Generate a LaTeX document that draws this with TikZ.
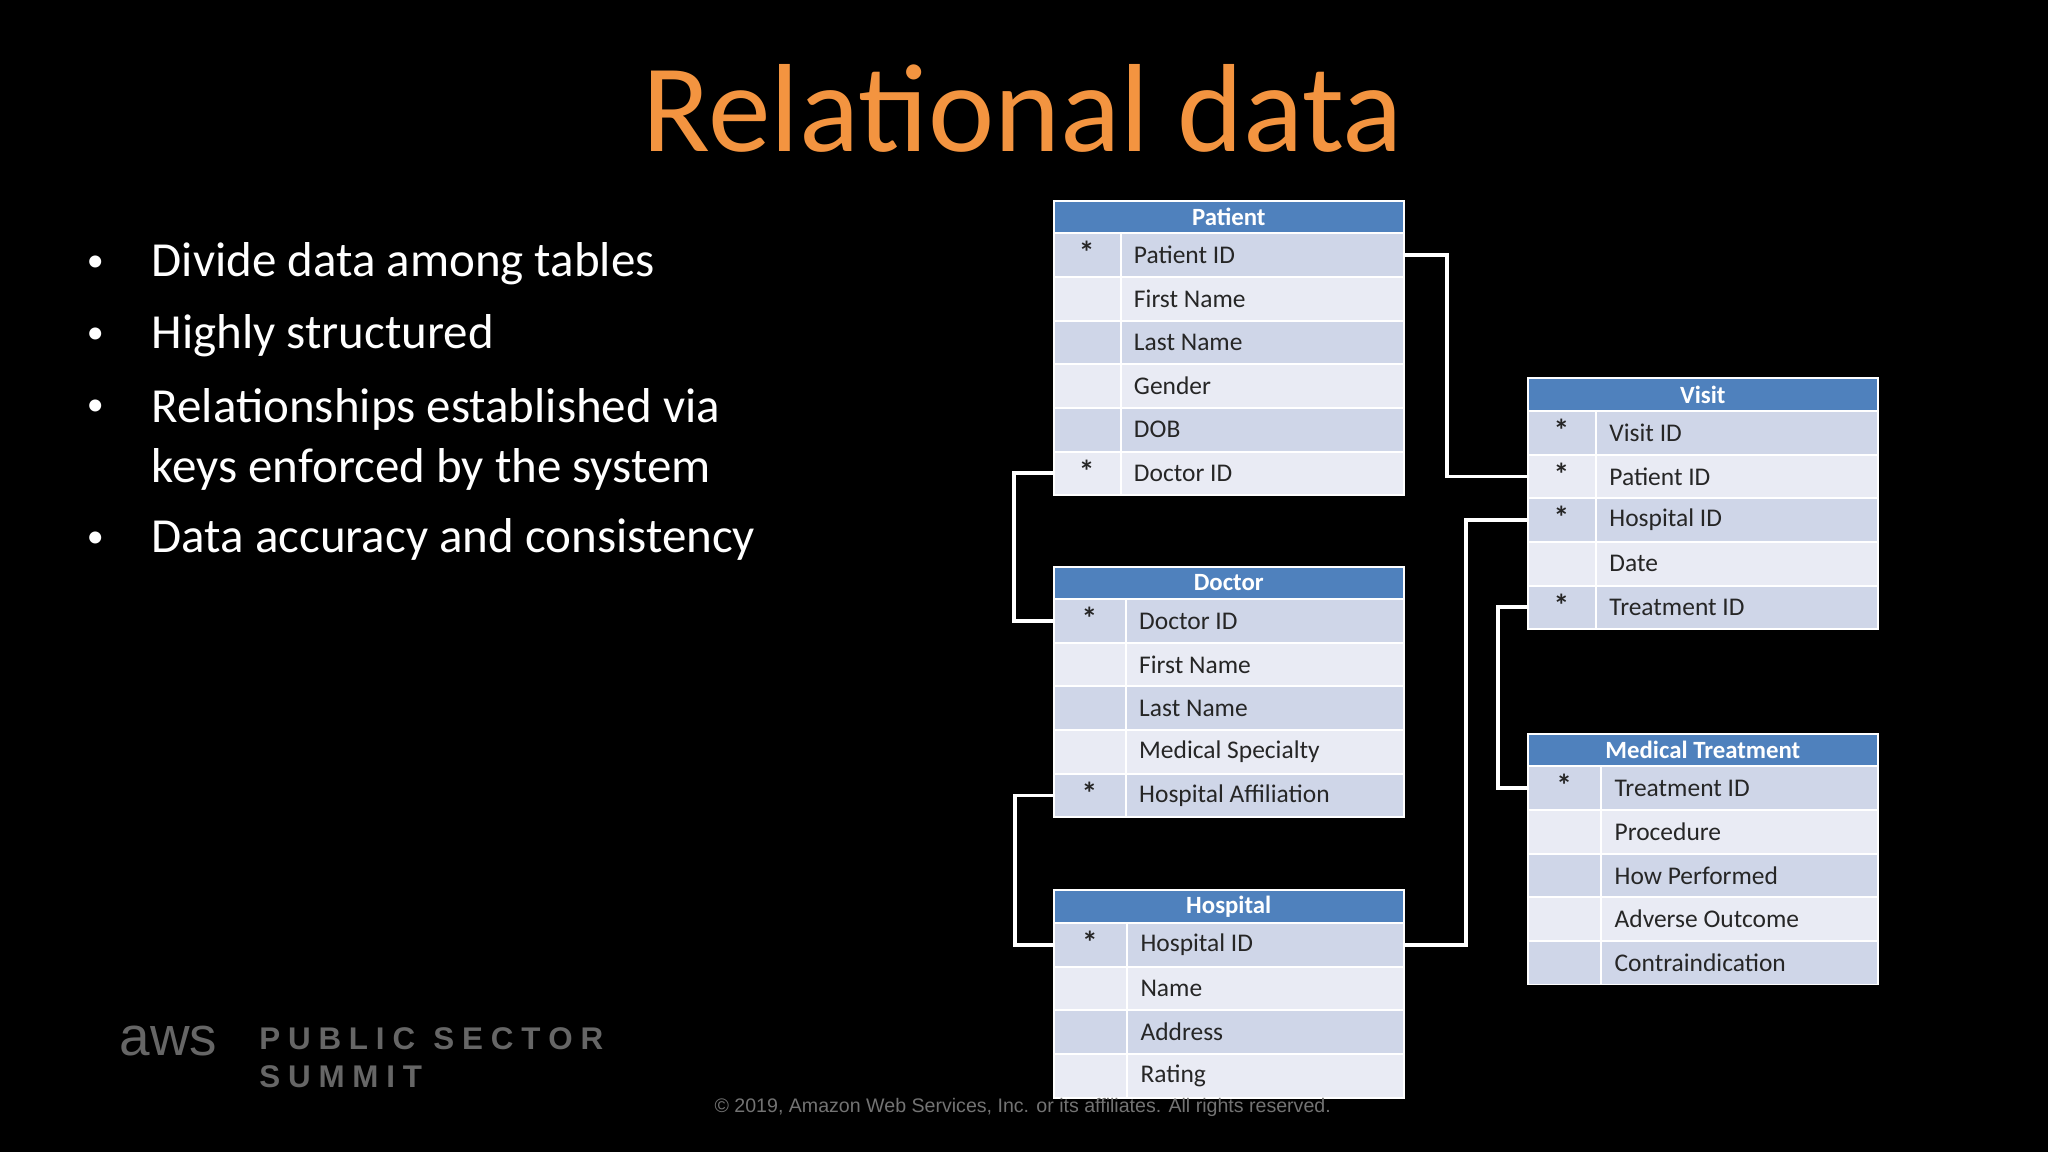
\documentclass[tikz,border=0pt]{standalone}
\usepackage{fontspec}
\setmainfont{Carlito}
\newfontfamily\arialish{Liberation Sans}
\definecolor{hdrblue}{HTML}{4F81BD}
\definecolor{rowdark}{HTML}{CFD6E8}
\definecolor{rowlight}{HTML}{E9EBF4}
\definecolor{titleorange}{HTML}{F39440}
\tikzset{
 hdr/.style={draw=white,line width=1.5pt,fill=hdrblue,text=white,font=\fontsize{19}{20}\selectfont\bfseries,minimum width=268pt,minimum height=25pt,inner sep=0pt},
 rowbox/.style={draw=white,line width=1.5pt,minimum width=268pt,minimum height=33.4pt,inner sep=0pt},
 cell/.style={text=black!85,font=\fontsize{19.5}{20}\selectfont,anchor=west,inner sep=0pt},
 star/.style={text=black!85,font=\fontsize{24}{20}\selectfont\bfseries,inner sep=0pt},
 conn/.style={draw=white,line width=3pt},
 bullet/.style={text=white,font=\fontsize{37.5}{46}\selectfont,anchor=west,align=left,inner sep=0pt},
 dot/.style={text=white,font=\fontsize{26}{26}\selectfont,inner sep=0pt},
}
\newcommand\mytable[6]{%
 \node[hdr,anchor=north west] (#1) at (#2,#3) {#5};
 \foreach [count=\i] \s/\t in {#6} {
  \pgfmathsetmacro\yy{#3+25+(\i-1)*33.4}
  \pgfmathtruncatemacro\odd{mod(\i,2)}
  \ifnum\odd=1 \def\fc{rowdark}\else\def\fc{rowlight}\fi
  \node[rowbox,fill=\fc,anchor=north west] (#1-\i) at (#2,\yy) {};
  \draw[white,line width=1.5pt] ([xshift=#4pt]#1-\i.north west) -- ([xshift=#4pt]#1-\i.south west);
  \node[star] (#1-\i-k) at ([xshift=#4pt/2,yshift=2pt]#1-\i.west) {\s};
  \node[cell] (#1-\i-t) at ([xshift=#4pt+10pt]#1-\i.west) {\t};
 }
}
\begin{document}
\begin{tikzpicture}[x=1pt,y=-1pt]
\fill[black] (0,0) rectangle (1568,882);
\useasboundingbox (0,0) rectangle (1568,882);
\node[text=titleorange,font=\fontsize{96}{100}\selectfont] (title) at (783,83) {Relational data};
\node[dot] (b1d) at (73,202) {•};
\node[bullet] (b1) at (116,202) {Divide data among tables};
\node[dot] (b2d) at (73,257) {•};
\node[bullet] (b2) at (116,257) {Highly structured};
\node[dot] (b3d) at (73,312) {•};
\node[bullet,anchor=north west] (b3) at (116,297) {Relationships established via\\keys enforced by the system};
\node[dot] (b4d) at (73,413) {•};
\node[bullet] (b4) at (116,413) {Data accuracy and consistency};

\mytable{pat}{806}{153}{52}{Patient}{*/Patient ID,{}/First Name,{}/Last Name,{}/Gender,{}/DOB,*/Doctor ID}
\mytable{doc}{806}{433}{56}{Doctor}{*/Doctor ID,{}/First Name,{}/Last Name,{}/Medical Specialty,*/Hospital Affiliation}
\mytable{hos}{806}{681}{57}{Hospital}{*/Hospital ID,{}/Name,{}/Address,{}/Rating}
\mytable{vis}{1169}{289}{53}{Visit}{*/Visit ID,*/Patient ID,*/Hospital ID,{}/Date,*/Treatment ID}
\mytable{med}{1169}{561}{57}{Medical Treatment}{*/Treatment ID,{}/Procedure,{}/How Performed,{}/Adverse Outcome,{}/Contraindication}

\draw[conn] (pat-1.east) -- ++(32,0) |- (vis-2.west);
\draw[conn] (hos-1.east) -- ++(47,0) |- (vis-3.west);
\draw[conn] (pat-6.west) -- ++(-30,0) |- (doc-1.west);
\draw[conn] (doc-5.west) -- ++(-29,0) |- (hos-1.west);
\draw[conn] (vis-5.west) -- ++(-22,0) |- (med-1.west);

\node[text=black!60,font=\arialish\fontsize{42}{40}\selectfont,anchor=west] (aws) at (88,797) {aws};
\node[text=black!60,font=\arialish\bfseries\fontsize{24}{29}\selectfont,anchor=west,align=left] (pss) at (195,810) {P\hspace{6pt}U\hspace{6pt}B\hspace{6pt}L\hspace{6pt}I\hspace{6pt}C\hspace{14pt}S\hspace{6pt}E\hspace{6pt}C\hspace{6pt}T\hspace{6pt}O\hspace{6pt}R\\S\hspace{6pt}U\hspace{6pt}M\hspace{6pt}M\hspace{6pt}I\hspace{6pt}T};
\node[text=black!55,font=\arialish\fontsize{15}{16}\selectfont] (copy) at (783,848) {© 2019, Amazon Web Services, Inc. or its affiliates. All rights reserved.};
\end{tikzpicture}
\end{document}
